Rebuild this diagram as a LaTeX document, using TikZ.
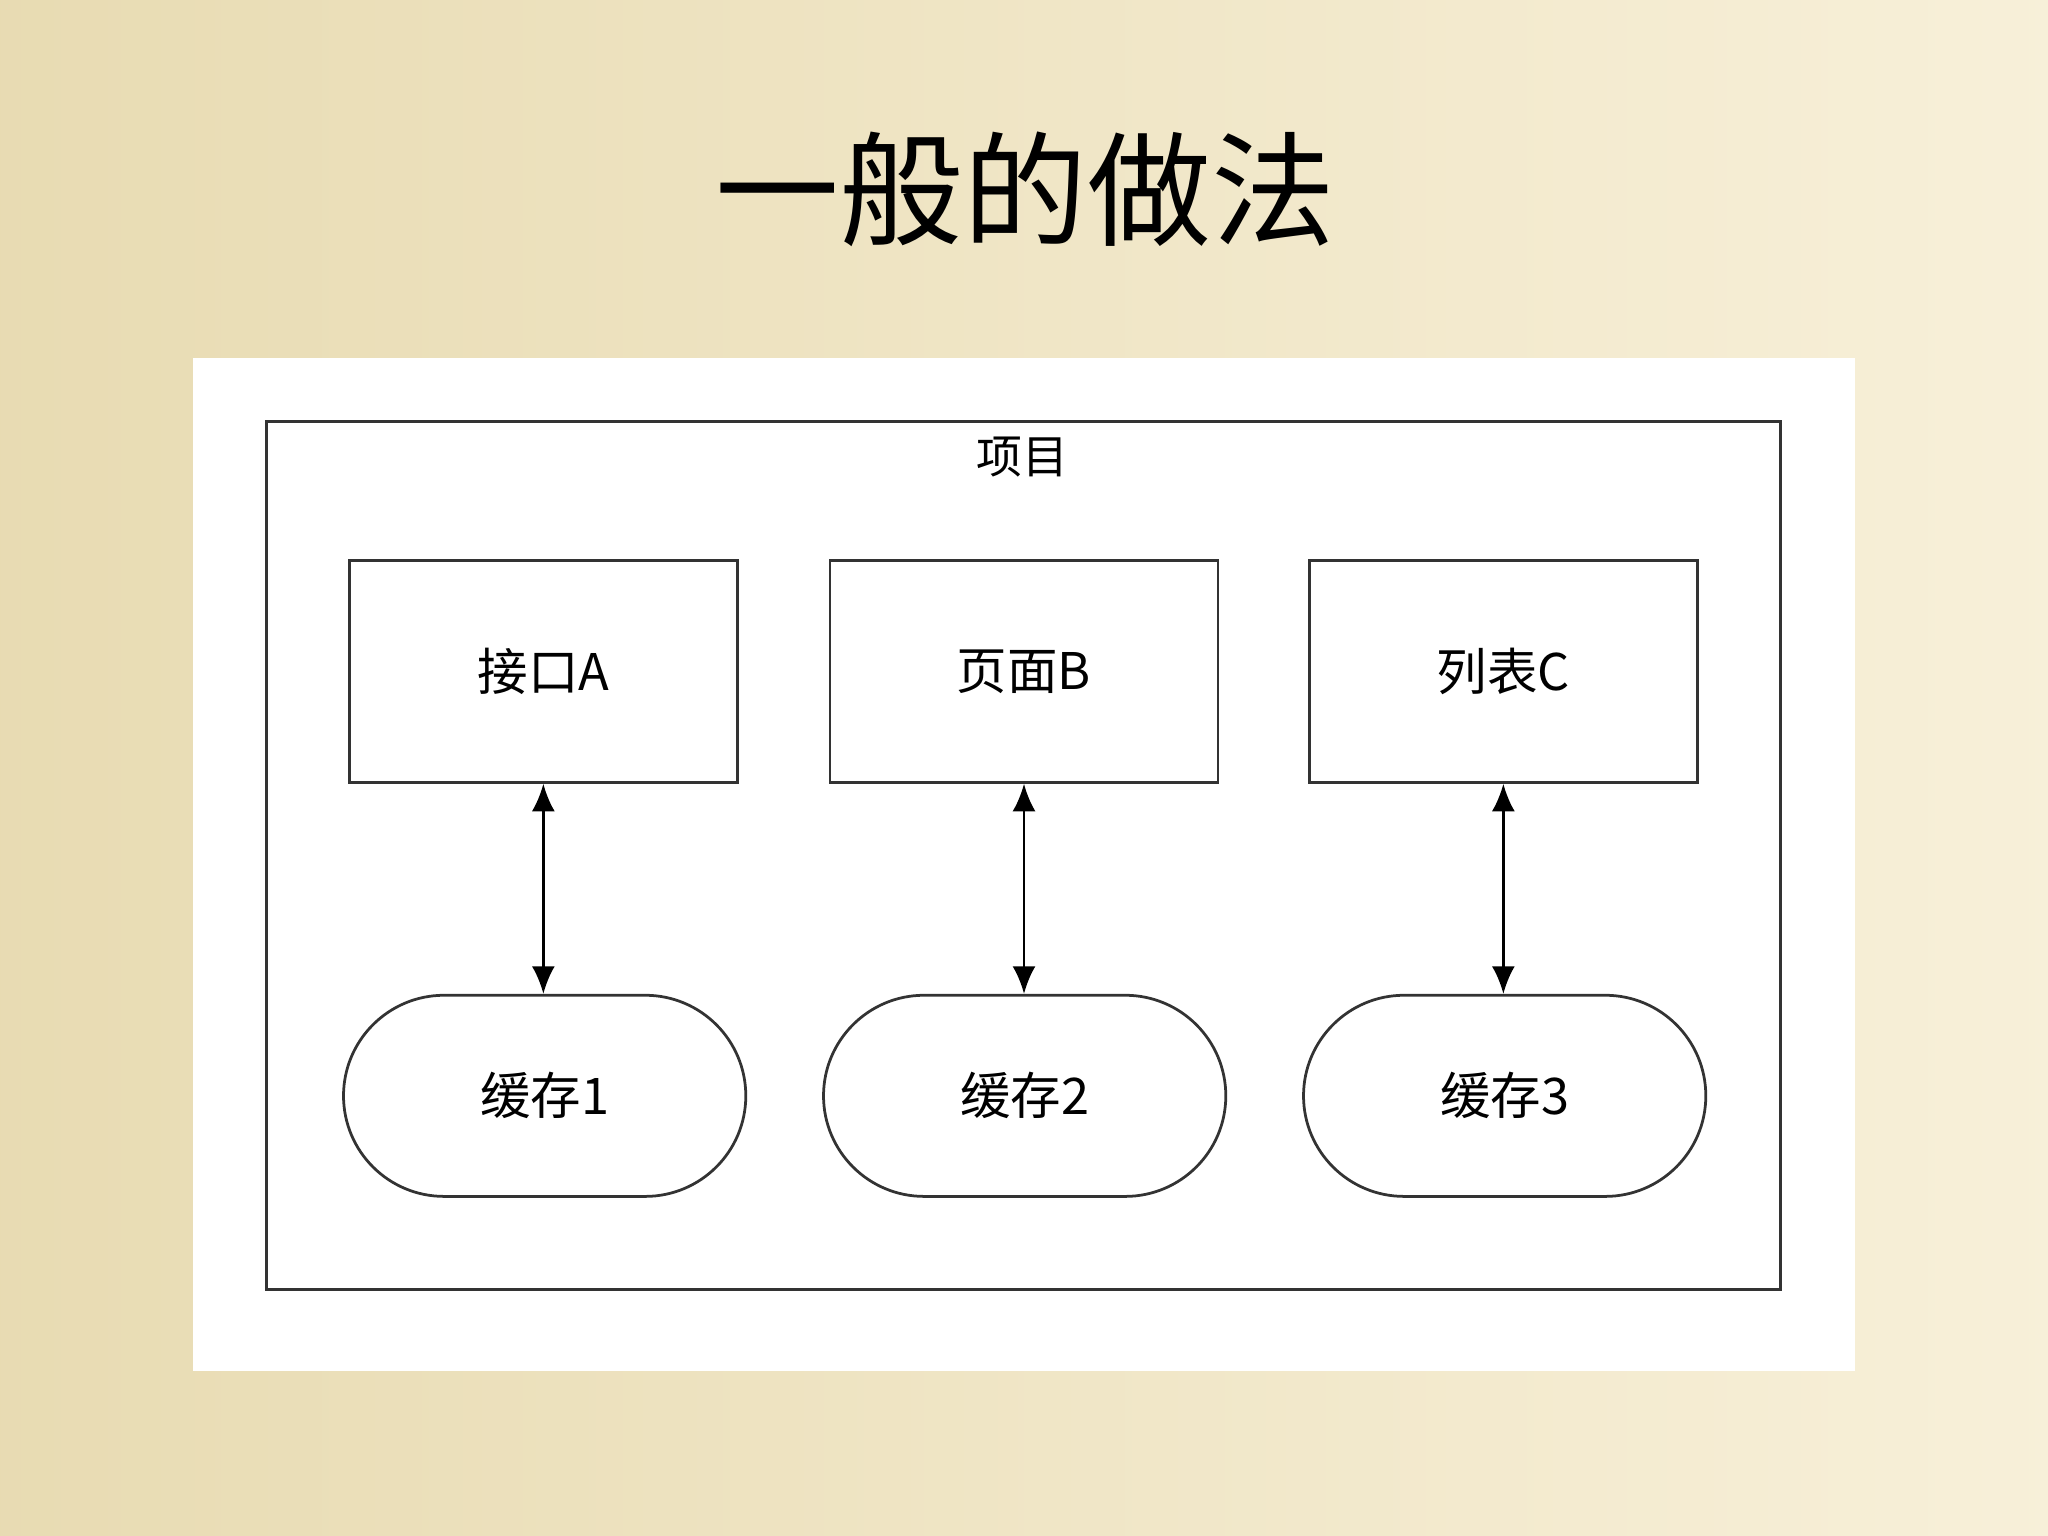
\documentclass[tikz,border=0pt]{standalone}
\usepackage{fontspec}
\setmainfont{Noto Sans CJK SC}
\usetikzlibrary{arrows.meta}
\definecolor{bgleft}{rgb}{0.91,0.86,0.70}
\definecolor{bgright}{rgb}{0.97,0.94,0.85}
\tikzset{
  modbox/.style={draw=black!80, semithick, fill=white, minimum width=2.97cm, minimum height=1.70cm, font=\fontsize{11pt}{13pt}\selectfont},
  cachebox/.style={draw=black!80, semithick, fill=white, rounded corners=0.77cm, minimum width=3.08cm, minimum height=1.54cm, font=\fontsize{11pt}{13pt}\selectfont},
  link/.style={semithick, {Latex[length=6pt,width=5pt]}-{Latex[length=6pt,width=5pt]}}
}
\begin{document}
\begin{tikzpicture}[y=-1cm]
\useasboundingbox (0,0) rectangle (15.68,11.76);
\shade[left color=bgleft, right color=bgright] (0,0) rectangle (15.68,11.76);
\node (title) at (7.85,1.45) {\fontsize{27pt}{30pt}\selectfont 一般的做法};
\fill[white] (1.48,2.74) rectangle (14.20,10.50);
\draw[draw=black!80, semithick] (2.04,3.23) rectangle (13.63,9.87);
\node (proj) at (7.83,3.50) {\fontsize{10pt}{12pt}\selectfont 项目};
\node[modbox] (ifa) at (4.16,5.14) {接口A};
\node[modbox] (pageb) at (7.84,5.14) {页面B};
\node[modbox] (listc) at (11.51,5.14) {列表C};
\node[cachebox] (cache1) at (4.17,8.39) {缓存1};
\node[cachebox] (cache2) at (7.845,8.39) {缓存2};
\node[cachebox] (cache3) at (11.52,8.39) {缓存3};
\draw[link] (ifa.south) -- (ifa.south |- cache1.north);
\draw[link] (pageb.south) -- (pageb.south |- cache2.north);
\draw[link] (listc.south) -- (listc.south |- cache3.north);
\end{tikzpicture}
\end{document}
